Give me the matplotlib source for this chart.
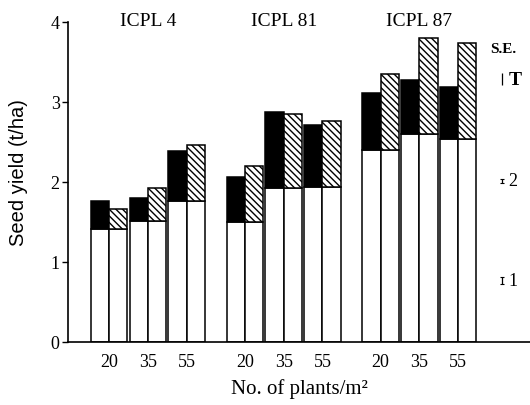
import numpy as np
import matplotlib
matplotlib.use("Agg")
import matplotlib.pyplot as plt

# seed yield (t/ha)
cultivars = ["ICPL 4", "ICPL 81", "ICPL 87"]
densities = ["20", "35", "55"]

# white part of both bars of each pair
base = [[1.41, 1.51, 1.76],
        [1.50, 1.92, 1.94],
        [2.40, 2.60, 2.54]]
# top of the left bar (black part)
left_top = [[1.76, 1.80, 2.39],
            [2.06, 2.87, 2.71],
            [3.11, 3.27, 3.19]]
# top of the right bar (hatched part)
right_top = [[1.66, 1.92, 2.46],
             [2.20, 2.85, 2.76],
             [3.35, 3.80, 3.73]]

se_labels = ["T", "2", "1"]
se_sizes = [0.15, 0.06, 0.09]
se_y = [3.28, 2.01, 0.77]

serif = "Liberation Serif"
plt.rcParams["hatch.linewidth"] = 1.0

fig = plt.figure(figsize=(5.3, 4.06), dpi=100)
ax = fig.add_axes([68 / 530, 63.3 / 406, 1 - 68 / 530, 320 / 406])

w = 0.47
lw = 1.1
centers = []
for g in range(len(cultivars)):
    for i in range(len(densities)):
        c = g * 3.5 + i
        centers.append(c)
        b = base[g][i]
        # left bar: white + black
        ax.bar(c - w / 2, b, w, color="white", edgecolor="black", linewidth=lw)
        ax.bar(c - w / 2, left_top[g][i] - b, w, bottom=b, color="black",
               edgecolor="black", linewidth=lw)
        # right bar: white + hatched
        ax.bar(c + w / 2, b, w, color="white", edgecolor="black", linewidth=lw)
        ax.bar(c + w / 2, right_top[g][i] - b, w, bottom=b, color="white",
               edgecolor="black", linewidth=lw, hatch="\\\\\\\\\\")
    ax.text(g * 3.5 + 1, 4.02, cultivars[g], ha="center", va="center",
            fontsize=14, family=serif)

# S.E. bars on the right
ax.text(10.15, 3.66, "S.E.", ha="center", va="center", fontsize=11,
        family=serif, weight="bold")
for k in range(3):
    cap = 0 if k == 0 else 1.5
    ax.errorbar(10.13, se_y[k], yerr=se_sizes[k] / 2, color="black",
                elinewidth=0.9, capsize=cap, capthick=0.8, clip_on=False)
    ax.text(10.3, se_y[k], se_labels[k], ha="left", va="center",
            fontsize=14 if k == 0 else 13, family=serif,
            weight="bold" if k == 0 else "normal")

ax.set_xlim(-1.06, 10.85)
ax.set_ylim(0, 4)
ax.set_xticks(centers)
ax.set_xticklabels(densities * 3, family=serif, fontsize=13)
ax.set_yticks([0, 1, 2, 3, 4])
ax.set_yticklabels(["0", "1", "2", "3", "4"], family=serif, fontsize=13)
ax.tick_params(axis="x", length=0, pad=8)
ax.tick_params(axis="y", direction="out", length=4, width=1, pad=2)

for s in ["top", "right"]:
    ax.spines[s].set_visible(False)
ax.spines["left"].set_linewidth(1.2)
ax.spines["bottom"].set_linewidth(1.2)

ax.set_xlabel("No. of plants/m²", family=serif, fontsize=15, labelpad=6)
fig.text(19 / 530, 1 - 173 / 406, "Seed yield (t/ha)", rotation=90,
         ha="center", va="center", fontsize=14.5, family="Liberation Sans")

fig.savefig("out.png", dpi=100)
